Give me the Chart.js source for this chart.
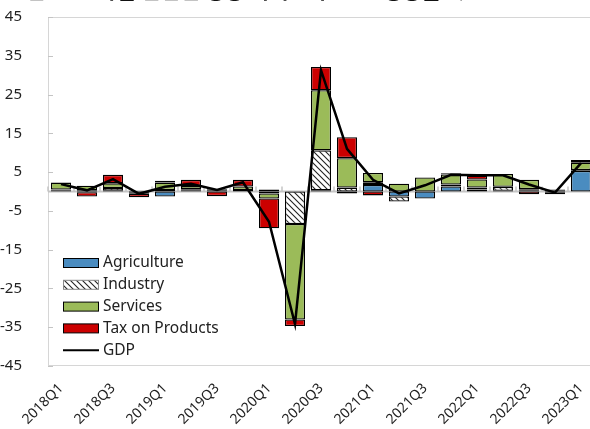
<!DOCTYPE html>
<html lang="ko">
<head>
<meta charset="utf-8">
<title>브라질 산업별 GDP 성장 기여도</title>
<script src="https://cdn.jsdelivr.net/npm/chart.js@4.4.1/dist/chart.umd.min.js"></script>
<style>
  html, body { margin: 0; padding: 0; background: #fff; overflow: hidden; }
  .wrap { position: relative; width: 600px; height: 429px; }
  .title {
    position: absolute; left: -1px; top: -26px; white-space: nowrap;
    font-family: 'Noto Sans CJK KR', sans-serif; font-weight: bold; font-size: 21px; color: #111;
  }
  .title small { font-size: 15px; font-weight: normal; }
  canvas { position: absolute; left: 0; top: 0; }
</style>
</head>
<body>
<div class="wrap">
  <canvas id="growthChart" width="600" height="429"></canvas>
  <div class="title">[그림 1] 브라질 산업별 성장 기여도와 GDP 성장률<small>(%, 전분기 대비 연율)</small></div>
</div>
<script>
const quarters = [
  '2018Q1', '2018Q2', '2018Q3', '2018Q4', '2019Q1', '2019Q2', '2019Q3', '2019Q4',
  '2020Q1', '2020Q2', '2020Q3', '2020Q4', '2021Q1', '2021Q2', '2021Q3', '2021Q4',
  '2022Q1', '2022Q2', '2022Q3', '2022Q4', '2023Q1'
];
const agriculture = [0.3, 0.3, 0.2, -0.2, -1.3, 0.2, 0.1, 0.1, 0.5, 0, 0.3, -0.5, 1.7, -1.3, -1.8, 1.3, 0.5, 0.2, 0.2, -0.3, 5.3];
const industry    = [0.2, -0.2, 0.7, -0.4, 0.4, 0.4, 0.2, 0.3, -0.5, -8.4, 10.3, 1.0, 0.7, -1.3, 0, 0.5, 0.5, 1.0, 0.4, 0.3, 0.2];
const services    = [1.8, 1.2, 1.2, 0.2, 1.9, 0.8, 0.3, 0.9, -1.3, -24.6, 15.5, 7.6, 2.4, 2.0, 3.6, 2.6, 2.1, 3.3, 2.4, 0.2, 1.9];
const taxes       = [0, -1.1, 2.2, -0.9, 0.5, 1.6, -1.2, 1.7, -7.7, -1.7, 6.0, 5.4, -1.0, 0, 0, 0.3, 1.0, 0, -0.7, -0.4, 0.7];
const gdp         = [1.9, 0.3, 3.2, -0.6, 1.2, 2.0, 0.4, 2.4, -7.8, -34.2, 31.3, 11.0, 3.0, -0.5, 1.6, 4.3, 4.2, 4.2, 1.8, -0.3, 7.3];
const yTicks = [45, 35, 25, 15, 5, -5, -15, -25, -35, -45];

const fontFamily = "'Noto Sans', sans-serif";
const axisGray = '#C4C4C4';

// diagonal hatch used for the industry segments
function hatchPattern() {
  const c = document.createElement('canvas');
  c.width = 6; c.height = 6;
  const g = c.getContext('2d');
  g.fillStyle = '#fff';
  g.fillRect(0, 0, 6, 6);
  g.strokeStyle = '#222';
  g.lineWidth = 1.1;
  g.beginPath();
  g.moveTo(-3, 3); g.lineTo(3, 9);
  g.moveTo(0, 0); g.lineTo(6, 6);
  g.moveTo(3, -3); g.lineTo(9, 3);
  g.stroke();
  return g.createPattern(c, 'repeat');
}
const hatch = hatchPattern();

function bar(label, data, fill) {
  return {
    type: 'bar', label, data, stack: 'parts',
    backgroundColor: fill, borderColor: '#000', borderWidth: 1.3, borderSkipped: false,
    barPercentage: 0.77, categoryPercentage: 1.0,
  };
}

// frame, inside ticks, zero line with category ticks
const axisDecor = {
  id: 'axisDecor',
  beforeDatasetsDraw(chart) {
    const { ctx, chartArea: a, scales: { x, y } } = chart;
    const seg = (x1, y1, x2, y2) => { ctx.beginPath(); ctx.moveTo(x1, y1); ctx.lineTo(x2, y2); ctx.stroke(); };
    ctx.save();
    ctx.strokeStyle = '#D6D6D6';
    ctx.lineWidth = 1;
    ctx.strokeRect(a.left + 0.5, a.top + 0.5, a.right - a.left - 1, a.bottom - a.top - 1);
    ctx.strokeStyle = axisGray;
    y.ticks.forEach(t => {
      const py = Math.round(y.getPixelForValue(t.value)) + 0.5;
      seg(a.left, py, a.left + 5, py);
    });
    const y0 = y.getPixelForValue(0);
    ctx.lineWidth = 2;
    seg(a.left, y0, a.right, y0);
    ctx.lineWidth = 1.5;
    for (let i = 0; i <= quarters.length; i++) {
      const px = x.getPixelForValue(i - 0.5);
      seg(px, y0, px, y0 - 5);
    }
    ctx.restore();
  }
};

const legendBox = {
  id: 'legendBox',
  afterDraw(chart) {
    const { ctx, chartArea: a } = chart;
    const left = a.left + 15, top = a.top + 246;
    ctx.save();
    ctx.font = `15.5px ${fontFamily}`;
    ctx.textBaseline = 'middle';
    chart.data.datasets.forEach((ds, i) => {
      const cy = top + i * 21.8;
      if (ds.type === 'line') {
        ctx.strokeStyle = '#000';
        ctx.lineWidth = 2;
        ctx.beginPath(); ctx.moveTo(left, cy); ctx.lineTo(left + 36, cy); ctx.stroke();
      } else {
        ctx.fillStyle = ds.backgroundColor;
        ctx.fillRect(left, cy - 4.5, 36, 9);
        ctx.strokeStyle = ds.backgroundColor === hatch ? '#888' : '#000';
        ctx.lineWidth = 1;
        ctx.strokeRect(left + 0.5, cy - 4.5, 35, 9);
      }
      ctx.fillStyle = '#222';
      ctx.fillText(ds.label, left + 40, cy);
    });
    ctx.restore();
  }
};

new Chart(document.getElementById('growthChart'), {
  data: {
    labels: quarters,
    datasets: [
      bar('Agriculture', agriculture, '#4A8CC0'),
      bar('Industry', industry, hatch),
      bar('Services', services, '#9BBB59'),
      bar('Tax on Products', taxes, '#CC0000'),
      {
        type: 'line', label: 'GDP', data: gdp, stack: 'gdp', order: -1,
        borderColor: '#000', borderWidth: 2.5, pointRadius: 0, tension: 0, fill: false,
      },
    ],
  },
  options: {
    responsive: false,
    animation: false,
    layout: { padding: { top: 17, right: 6, left: 0, bottom: 0 } },
    plugins: { legend: { display: false }, tooltip: { enabled: false } },
    scales: {
      x: {
        stacked: true,
        grid: { display: false },
        border: { display: false },
        ticks: {
          autoSkip: false, minRotation: 45, maxRotation: 45, padding: 6,
          color: '#222', font: { family: fontFamily, size: 14 },
          callback(value, index) { return index % 2 === 0 ? this.getLabelForValue(value) : ''; },
        },
        afterFit(scale) {
          scale.height = 63;
          scale.paddingLeft = 0; scale.paddingRight = 0;
        },
      },
      y: {
        stacked: true,
        min: -45, max: 45,
        grid: { display: false },
        border: { display: false },
        ticks: { padding: 18, color: '#222', font: { family: fontFamily, size: 15 } },
        afterBuildTicks(scale) { scale.ticks = yTicks.map(v => ({ value: v })); },
        afterFit(scale) {
          scale.width = 48;
          scale.paddingTop = 0; scale.paddingBottom = 0;
        },
      },
    },
  },
  plugins: [axisDecor, legendBox],
});
</script>
</body>
</html>
